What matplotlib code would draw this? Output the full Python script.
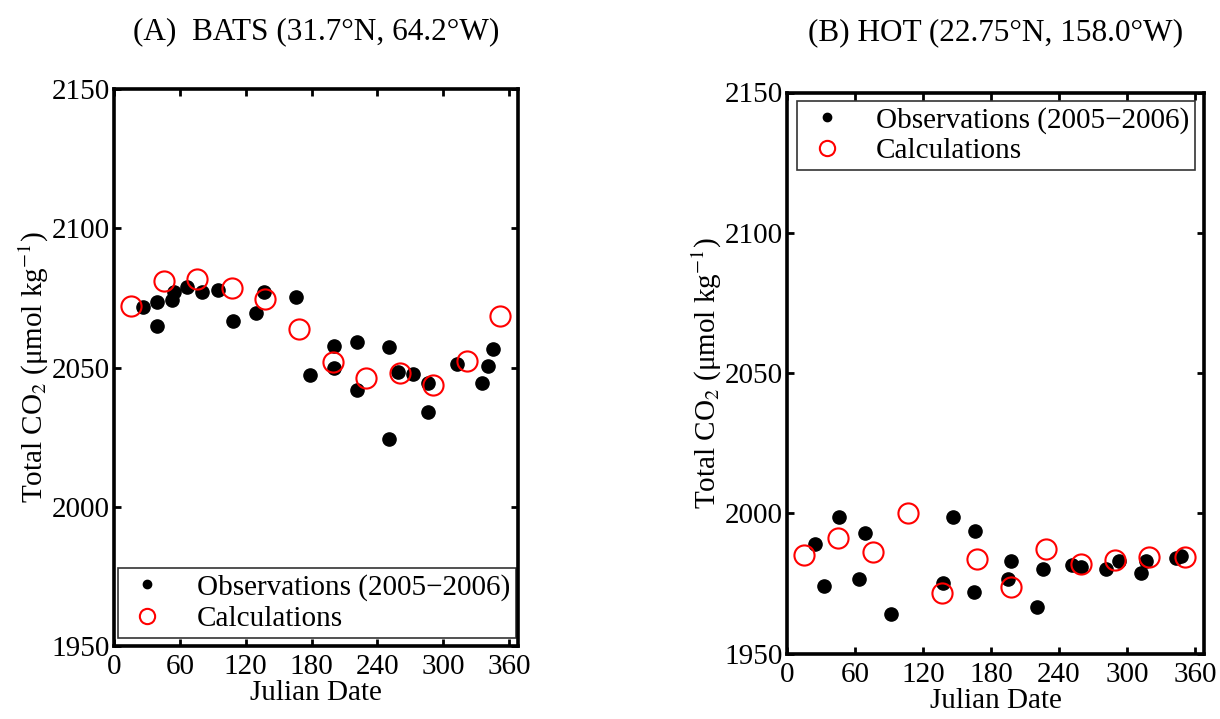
import matplotlib
matplotlib.use("Agg")
import matplotlib.pyplot as plt
from matplotlib.lines import Line2D

plt.rcParams['font.family'] = ['Liberation Serif', 'DejaVu Serif']
plt.rcParams['mathtext.fontset'] = 'stix'

# ---- Data: BATS ----
bats_obs_day = [26.7, 38.9, 39.4, 52.5, 54.6, 66.8, 79.9, 95.0, 108.7, 129.5, 136.9,
                165.8, 178.5, 200.6, 200.6, 221.6, 221.6, 250.1, 250.1, 259.0, 272.6,
                286.3, 286.3, 312.7, 334.9, 341.0, 344.9]
bats_obs_val = [2071.7, 2073.5, 2064.8, 2074.1, 2077.1, 2078.9, 2077.1, 2077.7, 2066.6, 2069.4, 2077.1,
                2075.3, 2047.2, 2057.7, 2050.0, 2059.2, 2041.9, 2057.2, 2024.2, 2048.4, 2047.8,
                2044.3, 2033.9, 2051.1, 2044.3, 2050.6, 2056.8]
bats_calc_day = [15.2, 45.5, 75.9, 107.2, 137.5, 168.6, 199.9, 229.2, 260.5, 290.8, 321.2, 351.5]
bats_calc_val = [2072.0, 2081.0, 2081.6, 2078.7, 2074.7, 2063.7, 2052.0, 2046.3, 2048.1, 2043.7, 2052.3, 2068.4]

# ---- Data: HOT ----
hot_obs_day = [24.4, 32.4, 45.8, 63.6, 68.9, 91.7, 137.7, 146.6, 164.9, 165.8, 194.8,
               197.8, 220.6, 226.0, 251.7, 259.1, 281.3, 293.2, 312.4, 316.9, 343.0, 348.0]
hot_obs_val = [1989.0, 1974.2, 1998.8, 1976.5, 1993.1, 1964.0, 1975.1, 1998.8, 1971.8, 1993.8, 1976.5,
               1983.1, 1966.4, 1980.0, 1981.6, 1980.8, 1980.0, 1982.8, 1978.8, 1982.8, 1984.0, 1984.8]
hot_calc_day = [14.7, 45.2, 76.3, 106.6, 137.0, 167.9, 197.8, 228.9, 259.1, 289.7, 319.9, 351.0]
hot_calc_val = [1985.1, 1991.1, 1986.1, 2000.0, 1971.5, 1983.6, 1973.6, 1987.3, 1981.8, 1983.4, 1984.5, 1984.3]

x_ticks = [0, 60, 120, 180, 240, 300, 360]
y_ticks = [1950, 2000, 2050, 2100, 2150]
titles = ["(A)  BATS (31.7°N, 64.2°W)", "(B) HOT (22.75°N, 158.0°W)"]
obs_label = "Observations (2005\u22122006)"
calc_label = "Calculations"
xlabel = "Julian Date"
ylabel = "Total CO$_2$ (\u03bcmol kg$^{-1}$)"

FS = 21

fig = plt.figure(figsize=(12.2, 7.19), dpi=100)
ax1 = fig.add_axes([114/1220, (719-646)/719, 404/1220, 557/719])
ax2 = fig.add_axes([787/1220, (719-653.5)/719, 417/1220, 561/719])

def style(ax, title, legloc, bbox, tpad):
    ax.set_xlim(0, 368)
    ax.set_ylim(1950, 2150)
    ax.set_xticks(x_ticks)
    ax.set_yticks(y_ticks)
    ax.tick_params(direction='in', top=True, right=True, length=5, width=2,
                   labelsize=FS)
    ax.tick_params(axis='x', pad=6)
    ax.tick_params(axis='y', pad=3)
    for s in ax.spines.values():
        s.set_linewidth(2.6)
    ax.set_xlabel(xlabel, fontsize=FS, labelpad=0)
    ax.set_ylabel(ylabel, fontsize=FS, labelpad=0)
    ax.set_title(title, fontsize=22.5, pad=tpad)
    handles = [Line2D([], [], ls='none', marker='o', color='black', markersize=6),
               Line2D([], [], ls='none', marker='o', mfc='none', mec='red',
                      markeredgewidth=1.5, markersize=11)]
    leg = ax.legend(handles, [obs_label, calc_label], loc=legloc, bbox_to_anchor=bbox,
                    fontsize=FS, frameon=True, fancybox=False, edgecolor='black',
                    handlelength=1.6, handletextpad=0.9, borderpad=0.2,
                    labelspacing=0.15, borderaxespad=0)
    leg.get_frame().set_linewidth(1.2)

ax1.plot(bats_obs_day, bats_obs_val, ls='none', marker='o', color='black', markersize=9.5)
ax1.plot(bats_calc_day, bats_calc_val, ls='none', marker='o', mfc='none', mec='red',
         markeredgewidth=1.5, markersize=14.5)
style(ax1, titles[0], 'lower left', (0.01, 0.015), 36)

ax2.plot(hot_obs_day, hot_obs_val, ls='none', marker='o', color='black', markersize=9.5)
ax2.plot(hot_calc_day, hot_calc_val, ls='none', marker='o', mfc='none', mec='red',
         markeredgewidth=1.5, markersize=14.5)
style(ax2, titles[1], 'upper left', (0.025, 0.985), 38)

fig.savefig("out.png", dpi=100)
